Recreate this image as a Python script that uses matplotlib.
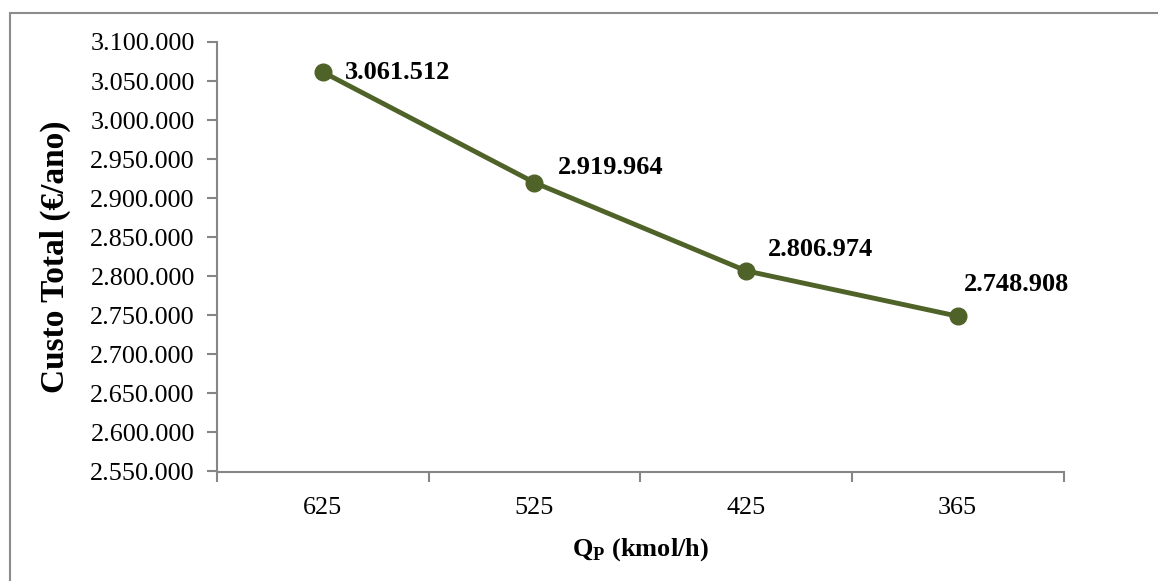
import matplotlib
matplotlib.use("Agg")
import matplotlib.pyplot as plt
from matplotlib.patches import Rectangle

# data
caudal = ["625", "525", "425", "365"]
custo_total = [3061512, 2919964, 2806974, 2748908]
y_ticks = list(range(2550000, 3100001, 50000))

# label offsets in pixels (style only)
label_dx = [22, 23, 22, 6]
label_dy = [0, 15, 21, 32]


def fmt_pt(v):
    return f"{v:,}".replace(",", ".")


def main():
    plt.rcParams["font.family"] = "Liberation Serif"
    plt.rcParams["mathtext.fontset"] = "custom"
    plt.rcParams["mathtext.rm"] = "Liberation Serif:bold"
    plt.rcParams["mathtext.bf"] = "Liberation Serif:bold"

    fig = plt.figure(figsize=(11.58, 5.81), dpi=100)
    fig.patches.append(
        Rectangle((10 / 1158, -0.1), 1.2, (581 - 13) / 581 + 0.1,
                  transform=fig.transFigure, fill=False,
                  edgecolor="#8c8c8c", linewidth=1.5)
    )
    ax = fig.add_axes([217 / 1158, (581 - 471.5) / 581,
                       (1063.5 - 217) / 1158, (471.5 - 42) / 581])

    gray = "#868686"
    olive = "#4F6228"
    x = list(range(len(caudal)))
    ax.plot(x, custo_total, color=olive, linewidth=3.5, marker="o",
            markersize=12, zorder=3)

    for i, v in enumerate(custo_total):
        ax.annotate(fmt_pt(v), (x[i], v), xytext=(label_dx[i], label_dy[i]),
                    textcoords="offset pixels", ha="left", va="center",
                    fontsize=19, fontweight="bold", color="black")

    ax.set_xlim(-0.5, len(caudal) - 0.5)
    ax.set_ylim(y_ticks[0], y_ticks[-1])
    ax.set_yticks(y_ticks)
    ax.set_yticklabels([fmt_pt(t) for t in y_ticks], fontsize=18.8)
    ax.set_xticks(x)
    ax.set_xticklabels(caudal, fontsize=18.8)
    ax.set_xticks([i - 0.5 for i in range(len(caudal) + 1)], minor=True)
    ax.tick_params(axis="x", which="major", length=0, pad=18)
    ax.tick_params(axis="x", which="minor", length=7, width=1.5,
                   color=gray, direction="out")
    ax.tick_params(axis="y", length=7, width=1.5, color=gray,
                   direction="out", pad=9)

    for side in ["top", "right"]:
        ax.spines[side].set_visible(False)
    for side in ["left", "bottom"]:
        ax.spines[side].set_color(gray)
        ax.spines[side].set_linewidth(1.5)

    ax.set_ylabel("Custo Total (€/ano)", fontsize=24, fontweight="bold",
                  labelpad=14)
    ax.set_xlabel(r"Q$_\mathregular{P}$ (kmol/h)", fontsize=19,
                  fontweight="bold", labelpad=13)

    fig.savefig("out.png", dpi=100)


if __name__ == "__main__":
    main()
